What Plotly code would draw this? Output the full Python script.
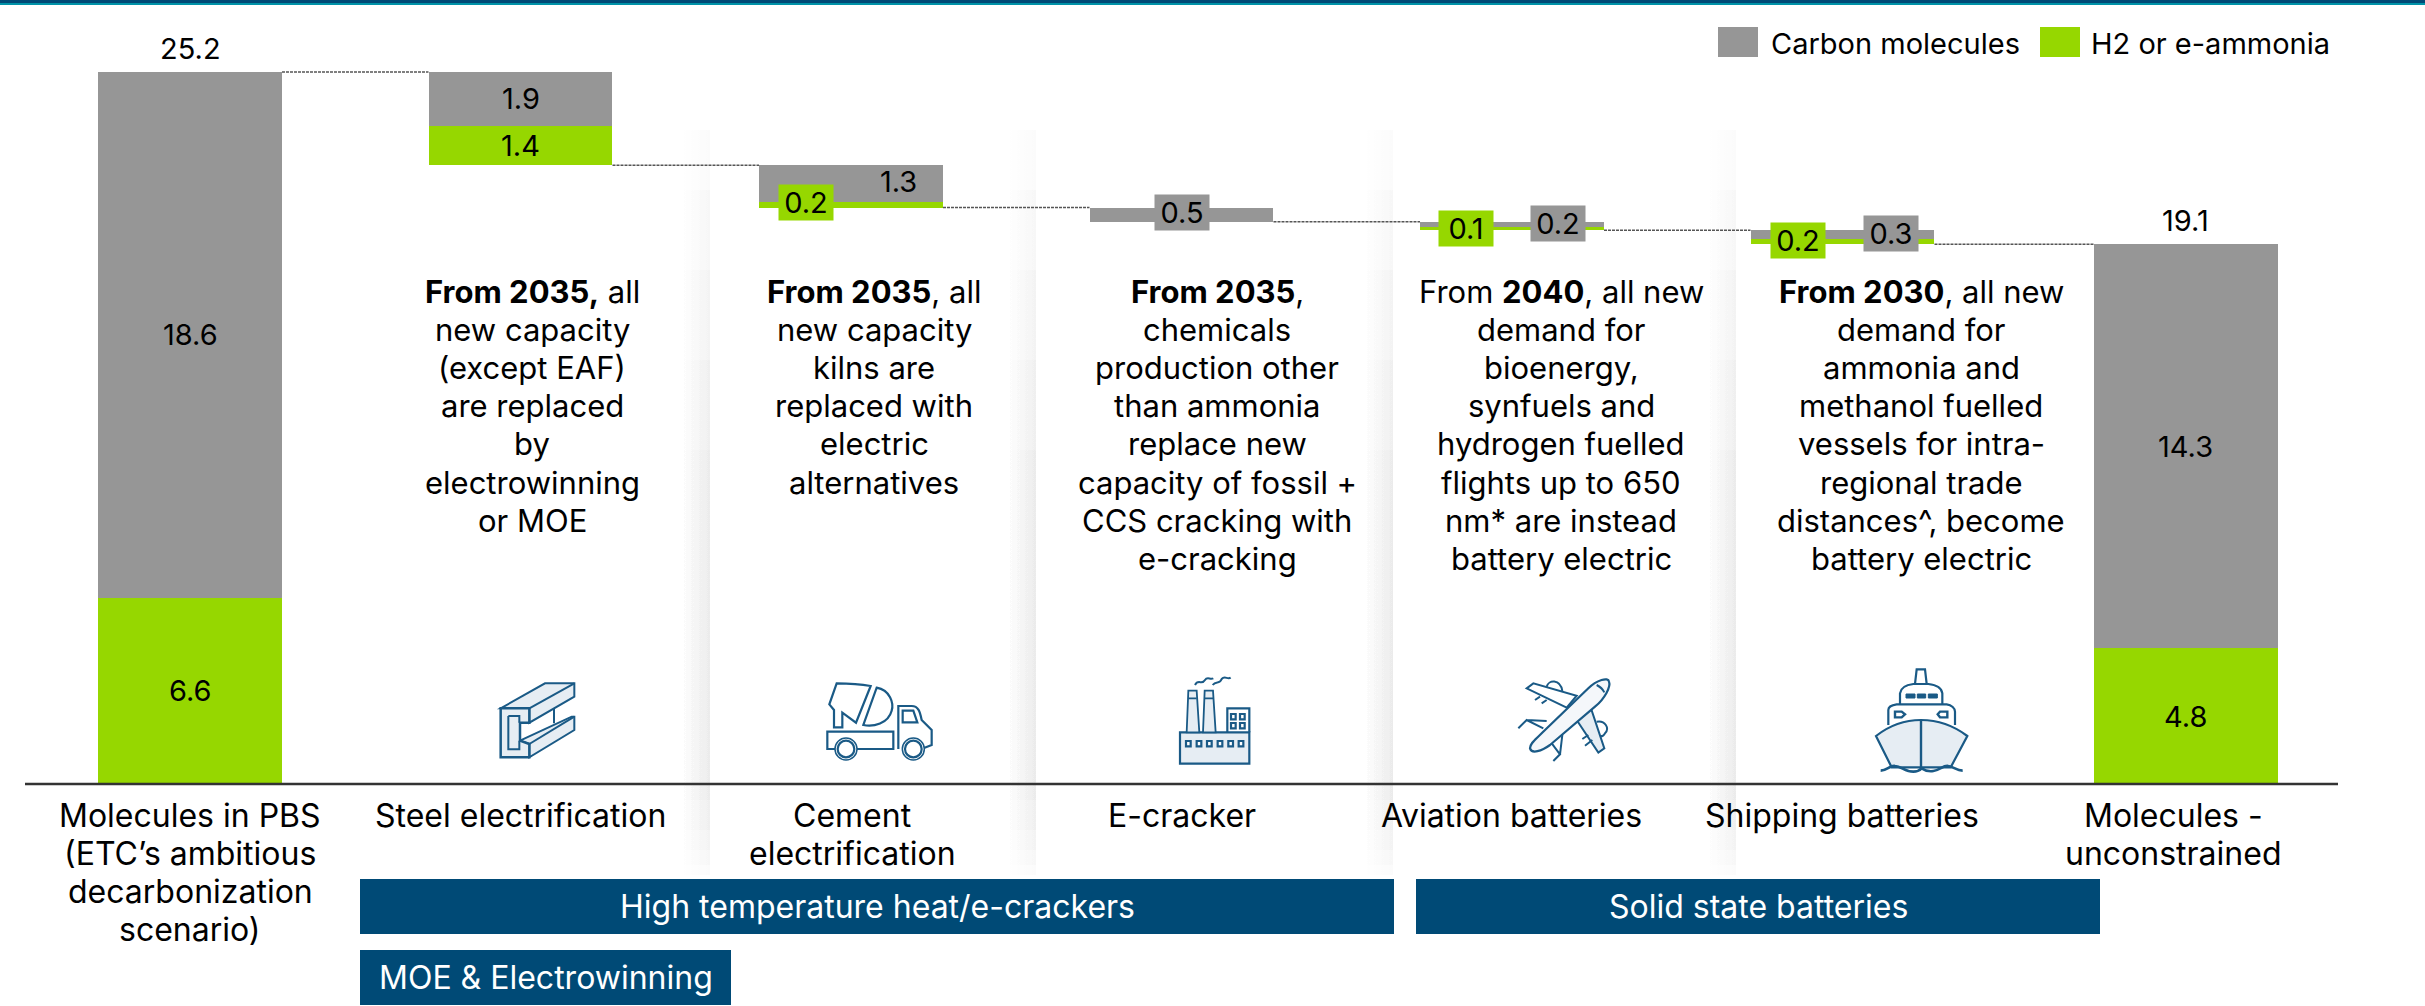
import re
import plotly.graph_objects as go

# values (stacked waterfall)
categories = ["Molecules in PBS<br>(ETC’s ambitious<br>decarbonization<br>scenario)", "Steel electrification",
              "Cement<br>electrification", "E-cracker", "Aviation batteries", "Shipping batteries",
              "Molecules -<br>unconstrained"]
carbon = [18.6, 1.9, 1.3, 0.5, 0.2, 0.3, 14.3]
h2 = [6.6, 1.4, 0.2, 0.0, 0.1, 0.2, 4.8]
totals = [25.2, None, None, None, None, None, 19.1]
panel_text = [
    "<b>From 2035,</b> all<br>new capacity<br>(except EAF)<br>are replaced<br>by<br>electrowinning<br>or MOE",
    "<b>From 2035</b>, all<br>new capacity<br>kilns are<br>replaced with<br>electric<br>alternatives",
    "<b>From 2035</b>,<br>chemicals<br>production other<br>than ammonia<br>replace new<br>capacity of fossil +<br>CCS cracking with<br>e-cracking",
    "From <b>2040</b>, all new<br>demand for<br>bioenergy,<br>synfuels and<br>hydrogen fuelled<br>flights up to 650<br>nm* are instead<br>battery electric",
    "<b>From 2030</b>, all new<br>demand for<br>ammonia and<br>methanol fuelled<br>vessels for intra-<br>regional trade<br>distances^, become<br>battery electric",
]
tech_names = ["High temperature heat/e-crackers", "Solid state batteries", "MOE & Electrowinning"]

GREY = "#969696"
GREEN = "#96d700"
NAVY = "#004a76"
ICON = "#1a5a86"
FONT = "Inter"
FS = 29
W, H = 2425, 1006
bar_x = [0, 1, 2, 3, 4, 5, 6.038]
bar_w = 0.5567


def to_x(p):
    return (p - 190) / 330.5


def to_y(p):
    return (784 - p) / 28.254


# waterfall bases
green_base, grey_base = [], []
level = carbon[0] + h2[0]
for i in range(len(carbon)):
    if i == 0 or i == len(carbon) - 1:
        green_base.append(0)
        grey_base.append(h2[i])
    else:
        level -= carbon[i] + h2[i]
        green_base.append(level)
        grey_base.append(level + h2[i])

fig = go.Figure()

# soft panel shadows, nested so they fade towards the top and bottom
for edge in [710, 1036, 1393, 1736]:
    for y0, y1 in [(130, 875), (190, 865), (270, 850), (360, 830), (450, 800)]:
        xs = [edge - 30, edge, edge, edge - 30]
        ys = [y0, y0, y1, y1]
        fig.add_trace(go.Scatter(x=[to_x(v) for v in xs], y=[to_y(v) for v in ys], mode="lines", fill="toself",
                                 line=dict(width=0), hoverinfo="skip", showlegend=False,
                                 fillgradient=dict(type="horizontal",
                                                   colorscale=[[0, "rgba(0,0,0,0)"], [1, "rgba(0,0,0,0.016)"]])))

fig.add_trace(go.Bar(x=bar_x, y=carbon, base=grey_base, width=bar_w, marker=dict(color=GREY, line_width=0),
                     name="Carbon molecules", showlegend=False))
fig.add_trace(go.Bar(x=bar_x, y=h2, base=green_base, width=bar_w, marker=dict(color=GREEN, line_width=0),
                     name="H2 or e-ammonia", showlegend=False))

# dashed connectors between the steps
tops = [carbon[0] + h2[0]] + green_base[1:-1]
for i in range(len(tops)):
    x_end = bar_x[i + 1] - bar_w / 2
    fig.add_trace(go.Scatter(x=[bar_x[i] + bar_w / 2, x_end], y=[tops[i], tops[i]], mode="lines",
                             line=dict(color="#555555", width=1.5, dash="3px,1px"), hoverinfo="skip",
                             showlegend=False))

anns = []


def add_text(px, py, text, size=FS, color="#000000"):
    anns.append(dict(x=to_x(px), y=to_y(py), xref="x", yref="y", text=text, showarrow=False,
                     font=dict(family=FONT, size=size, color=color), align="center",
                     xanchor="center", yanchor="middle"))


def add_lines(px, py, text, size):
    # one annotation per line, the reference leading is tighter than plotly's
    for k, line in enumerate(text.split("<br>")):
        add_text(px, py + 38.2 * k, line, size)


# totals and labels in the tall bars
for i in [0, 6]:
    anns.append(dict(x=bar_x[i], y=totals[i], xref="x", yref="y", text=str(totals[i]), showarrow=False, yshift=4,
                     yanchor="bottom", font=dict(family=FONT, size=FS, color="#000000")))
for i in [0, 1, 6]:
    for vals, base in [(carbon, grey_base), (h2, green_base)]:
        anns.append(dict(x=bar_x[i], y=base[i] + vals[i] / 2, xref="x", yref="y", text=str(vals[i]), showarrow=False,
                         font=dict(family=FONT, size=FS, color="#000000")))

# labels on the thin steps: bar, value, colour, x shift, y shift from bar bottom
small = [(2, h2[2], GREEN, -45, 5), (2, carbon[2], None, 47, 26), (3, carbon[3], GREY, 0, 9),
         (4, h2[4], GREEN, -46, 2), (4, carbon[4], GREY, 46, 7), (5, h2[5], GREEN, -45, 4), (5, carbon[5], GREY, 48, 11)]
for i, v, col, dx, dy in small:
    a = dict(x=bar_x[i], y=green_base[i], xref="x", yref="y", text=str(v), showarrow=False, xshift=dx, yshift=dy,
             font=dict(family=FONT, size=FS, color="#000000"))
    if col:
        a.update(bgcolor=col, width=54, height=35, borderpad=0)
    anns.append(a)

# axis labels
label_x = [190, 520, 852, 1182, 1511, 1842, 2173]
for lx, cat in zip(label_x, categories):
    add_lines(lx, 815, cat, 32)

# panel text
for tx, t in zip([532, 874, 1217, 1561, 1921], panel_text):
    add_lines(tx, 291, t, 31)

# legend
add_text(1895, 43, "Carbon molecules")
add_text(2210, 43, "H2 or e-ammonia")

# technology boxes
boxes = [(360, 1394, 879, 934), (1416, 2100, 879, 934), (360, 731, 950, 1005)]
shapes = []


def rect(x0, x1, y0, y1, color):
    shapes.append(dict(type="rect", xref="x", yref="y", x0=to_x(x0), x1=to_x(x1), y0=to_y(y0), y1=to_y(y1),
                       fillcolor=color, line_width=0))


for (x0, x1, y0, y1), name in zip(boxes, tech_names):
    rect(x0, x1, y0, y1, NAVY)
    add_text((x0 + x1) / 2, (y0 + y1) / 2, name, 32, "#ffffff")

rect(0, W, 0, 3, "#004a76")
rect(0, W, 3, 5, "#0093a8")
rect(1718, 1758, 27, 57, GREY)
rect(2040, 2080, 27, 57, GREEN)

# baseline
shapes.append(dict(type="line", xref="x", yref="y", x0=to_x(25), x1=to_x(2338), y0=0, y1=0,
                   line=dict(color="#333333", width=2.5)))


# icons, coordinates are in a 3x local drawing of each pictogram
def icon_path(ox, oy, d, fill=None, width=2.0, color=ICON):
    parts = re.findall(r"[MLCZ]|-?\d+\.?\d*", d)
    out, is_x = [], True
    for tok in parts:
        if tok in "MLCZ":
            out.append(tok)
            is_x = True
        else:
            v = float(tok) / 3
            out.append(f"{to_x(ox + v):.5f}" if is_x else f"{to_y(oy + v):.5f}")
            is_x = not is_x
    path = " ".join(out)
    s = dict(type="path", xref="x", yref="y", path=path, line=dict(color=color, width=width))
    if fill:
        s["fillcolor"] = fill
    shapes.append(s)


def icon_circle(ox, oy, cx, cy, r, fill="#ffffff", width=2.0):
    shapes.append(dict(type="circle", xref="x", yref="y", x0=to_x(ox + (cx - r) / 3), x1=to_x(ox + (cx + r) / 3),
                       y0=to_y(oy + (cy - r) / 3), y1=to_y(oy + (cy + r) / 3), fillcolor=fill,
                       line=dict(color=ICON, width=width)))


TINT = "#e6edf3"
# steel beam
o = (480, 670)
icon_path(*o, "M62 115 L195 40 L283 40 L283 80 L148 158 L148 115 Z", TINT)
icon_path(*o, "M148 115 L283 40")
icon_path(*o, "M222 115 L222 160")
icon_path(*o, "M120 212 L275 140 L283 140 L283 180 L148 262 L148 222 Z", TINT)
icon_path(*o, "M148 222 L283 140")
icon_path(*o, "M62 115 L148 115 L148 158 L120 158 L120 212 L148 222 L148 262 L62 262 Z", TINT, 2.5)
icon_path(*o, "M85 138 L118 138 L118 158 M85 138 L85 238 L118 238 L118 212", None, 2.0)

# cement truck
o = (810, 670)
icon_path(*o, "M80 40 C 115 40 150 42 182 48 L138 158 L97 128 L97 172 L72 172 L72 120 L58 103 Z", "#ffffff", 2.2)
icon_path(*o, "M200 53 C 240 60 252 100 245 122 C 235 160 190 172 160 165 Z", "#ffffff", 2.2)
icon_path(*o, "M85 237 L52 237 L52 185 L250 185 L250 237 L135 237", None, 2.2)
icon_path(*o, "M265 237 L265 108 L305 108 C 325 108 330 125 335 150 L365 180 L365 225 L340 235", None, 2.2)
icon_path(*o, "M278 122 L310 122 L322 157 L278 157 Z", None, 2.2)
icon_circle(*o, 108, 237, 33, "#ffffff", 1.5)
icon_circle(*o, 108, 237, 25, "#ffffff", 2.2)
icon_circle(*o, 310, 237, 33, "#ffffff", 1.5)
icon_circle(*o, 310, 237, 25, "#ffffff", 2.2)

# factory
o = (1170, 665)
icon_path(*o, "M30 202 L238 202 L238 296 L30 296 Z", TINT, 2.2)
icon_path(*o, "M172 202 L172 130 L238 130 L238 202", None, 2.2)
icon_path(*o, "M55 77 L80 77 L88 202 L50 202 Z", TINT, 1.8)
icon_path(*o, "M104 77 L129 77 L137 202 L99 202 Z", TINT, 1.8)
icon_path(*o, "M55 100 L80 100 M104 100 L129 100", None, 1.8)
icon_path(*o, "M75 60 C 85 40 95 62 105 45 C 112 33 120 45 130 40", None, 2.0)
icon_path(*o, "M128 60 C 138 45 148 60 155 42 C 165 30 172 45 182 38", None, 2.0)
for wx in [55, 87, 118, 150, 182, 213]:
    icon_path(*o, f"M{wx - 7} 228 L{wx + 7} 228 L{wx + 7} 244 L{wx - 7} 244 Z", "#ffffff", 2.2)
for wx, wy in [(190, 155), (217, 155), (190, 182), (217, 182)]:
    icon_path(*o, f"M{wx - 7} {wy - 8} L{wx + 7} {wy - 8} L{wx + 7} {wy + 8} L{wx - 7} {wy + 8} Z", "#ffffff", 2.2)

# plane
o = (1505, 665)
icon_path(*o, "M125 65 C 130 45 165 40 172 78", None, 2.0)
icon_path(*o, "M275 170 C 300 165 315 190 300 205 C 295 215 285 215 278 212", None, 2.0)
icon_path(*o, "M185 128 L65 70 L85 55 L215 92 Z", "#ffffff", 2.0)
icon_path(*o, "M215 165 L280 263 L298 250 L258 130 Z", TINT, 2.0)
icon_path(*o, "M115 190 L65 165 L40 190 M65 165 L125 168", None, 2.0)
icon_path(*o, "M138 232 L165 268 L145 288 M165 268 L172 210", None, 2.0)
icon_path(*o, "M90 105 L105 95 M110 115 L125 105 M232 222 L250 210 M240 242 L262 225", None, 2.0)
icon_path(*o, "M75 250 C 75 235 90 225 110 205 L250 70 C 275 45 310 35 312 50 C 318 65 300 100 270 125 L135 240 C 110 258 80 268 75 250 Z",
          "#f4f7fa", 2.2)
icon_path(*o, "M275 60 C 285 65 292 70 298 82", None, 2.0)

# ship
o = (1860, 660)
icon_path(*o, "M170 28 L195 28 L200 72 L165 72 Z", "#ffffff", 2.2)
icon_path(*o, "M120 133 L120 100 C 122 85 135 75 160 72 L205 72 C 232 75 245 85 247 100 L247 133", "#ffffff", 2.2)
for wx0, wx1 in [(138, 165), (172, 197), (205, 232)]:
    icon_path(*o, f"M{wx0} 102 L{wx1} 102 L{wx1} 114 L{wx0} 114 Z", ICON, 1)
icon_path(*o, "M85 195 L85 150 C 85 140 95 135 110 133 L260 133 C 275 135 285 145 285 155 L285 195", "#ffffff", 2.2)
icon_path(*o, "M105 155 L125 155 L135 163 L125 172 L105 172 Z", "#ffffff", 2.4)
icon_path(*o, "M262 155 L240 155 L233 163 L240 172 L262 172 Z", "#ffffff", 2.4)
icon_path(*o, "M48 228 C 90 195 135 180 183 180 C 235 180 285 200 322 228 L272 322 L95 322 Z", TINT, 2.2)
icon_path(*o, "M183 180 L183 330", None, 2.4)
icon_path(*o, "M62 332 C 80 332 90 315 105 318 C 125 320 135 335 160 335 C 175 335 180 330 185 325 C 195 332 205 335 220 333 C 240 330 250 315 265 318 C 280 320 290 332 308 332",
          None, 2.6)

fig.update_layout(
    width=W, height=H, margin=dict(l=0, r=0, t=0, b=0), autosize=False,
    plot_bgcolor="#ffffff", paper_bgcolor="#ffffff", barmode="overlay", bargap=0,
    xaxis=dict(range=[to_x(0), to_x(W)], visible=False, fixedrange=True),
    yaxis=dict(range=[to_y(H), to_y(0)], visible=False, fixedrange=True),
    annotations=anns, shapes=shapes, showlegend=False, font=dict(family=FONT, size=FS),
)
fig.write_html("out.html", config={"displayModeBar": False},
               post_script="document.body.style.margin='0';document.body.style.overflow='hidden';")
